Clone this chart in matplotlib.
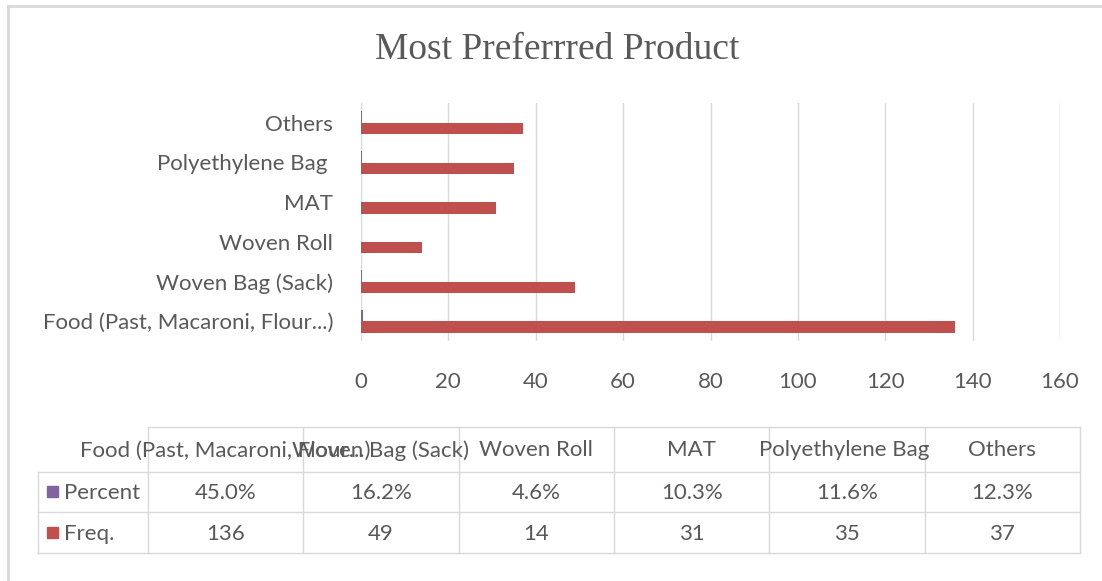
import matplotlib
matplotlib.use("Agg")
import matplotlib.pyplot as plt
from matplotlib.lines import Line2D
from matplotlib.patches import Rectangle
import numpy as np

categories = ["Food (Past, Macaroni, Flour...)", "Woven Bag (Sack)", "Woven Roll",
              "MAT", "Polyethylene Bag ", "Others"]
freq = [136, 49, 14, 31, 35, 37]
percent = [45.0, 16.2, 4.6, 10.3, 11.6, 12.3]
x_ticks = [0, 20, 40, 60, 80, 100, 120, 140, 160]
title = "Most Preferrred Product"

W, H = 1102, 581
TXT = "#595959"
GRID = "#D9D9D9"
RED = "#C0504D"
PURPLE = "#8064A2"
SANS = ["Lato", "DejaVu Sans"]
FS = 16

fig = plt.figure(figsize=(W / 100, H / 100), dpi=100)

# main bar axes
ax = fig.add_axes([361 / W, 1 - 341 / H, 699 / W, 238 / H])
y = np.arange(len(categories))
h = 0.29
ax.barh(y - h / 2, freq, height=h, color=RED, zorder=3)
ax.barh(y + h / 2, np.array(percent) / 100.0, height=h, color=PURPLE, zorder=3)
ax.set_xlim(0, 160)
ax.set_ylim(-0.5, len(categories) - 0.5)
ax.set_xticks(x_ticks)
ax.set_yticks(y)
ax.set_yticklabels(categories)
ax.grid(axis="x", color=GRID, linewidth=1, zorder=0)
for s in ax.spines.values():
    s.set_visible(False)
ax.tick_params(axis="both", length=0, colors=TXT)
ax.tick_params(axis="y", pad=20, labelsize=FS)
ax.tick_params(axis="x", pad=22, labelsize=FS)
for lab in ax.get_xticklabels() + ax.get_yticklabels():
    lab.set_family(SANS)

# overlay in pixel coordinates for title, data table and frame
ov = fig.add_axes([0, 0, 1, 1], zorder=-1)
ov.set_xlim(0, W)
ov.set_ylim(H, 0)
ov.axis("off")
ov.patch.set_alpha(0)

ov.add_line(Line2D([8, 8], [6, H + 5], color="#D9D9D9", lw=2))
ov.add_line(Line2D([8, W + 5], [6, 6], color="#D9D9D9", lw=2))

ov.text(557, 50, title, ha="center", va="center", fontsize=27,
        family=["Liberation Serif", "DejaVu Serif"], color=TXT)

# data table
x0, x1 = 148, 1080
lx = 38
cols = np.linspace(x0, x1, len(categories) + 1)
rows = [427, 472, 512, 553]
lw_t = 1.0
ov.add_line(Line2D([x0, x1], [rows[0], rows[0]], color=GRID, lw=lw_t))
for r in rows[1:]:
    ov.add_line(Line2D([lx, x1], [r, r], color=GRID, lw=lw_t))
for c in cols:
    ov.add_line(Line2D([c, c], [rows[0], rows[3]], color=GRID, lw=lw_t))
ov.add_line(Line2D([lx, lx], [rows[1], rows[3]], color=GRID, lw=lw_t))

centers = (cols[:-1] + cols[1:]) / 2
for cx, cat in zip(centers, categories):
    ov.text(cx, (rows[0] + rows[1]) / 2 + 1, cat, ha="center", va="center",
            fontsize=FS, family=SANS, color=TXT)
for cx, p in zip(centers, percent):
    ov.text(cx, (rows[1] + rows[2]) / 2 + 1, f"{p:.1f}%", ha="center", va="center",
            fontsize=FS, family=SANS, color=TXT)
for cx, f in zip(centers, freq):
    ov.text(cx, (rows[2] + rows[3]) / 2 + 1, f"{f}", ha="center", va="center",
            fontsize=FS, family=SANS, color=TXT)

for (label, color), (ra, rb) in zip([("Percent", PURPLE), ("Freq.", RED)],
                                    [(rows[1], rows[2]), (rows[2], rows[3])]):
    cy = (ra + rb) / 2
    ov.add_patch(Rectangle((47, cy - 6), 11, 11, color=color))
    ov.text(64, cy + 1, label, ha="left", va="center", fontsize=FS,
            family=SANS, color=TXT)

fig.savefig("out.png", dpi=100)
